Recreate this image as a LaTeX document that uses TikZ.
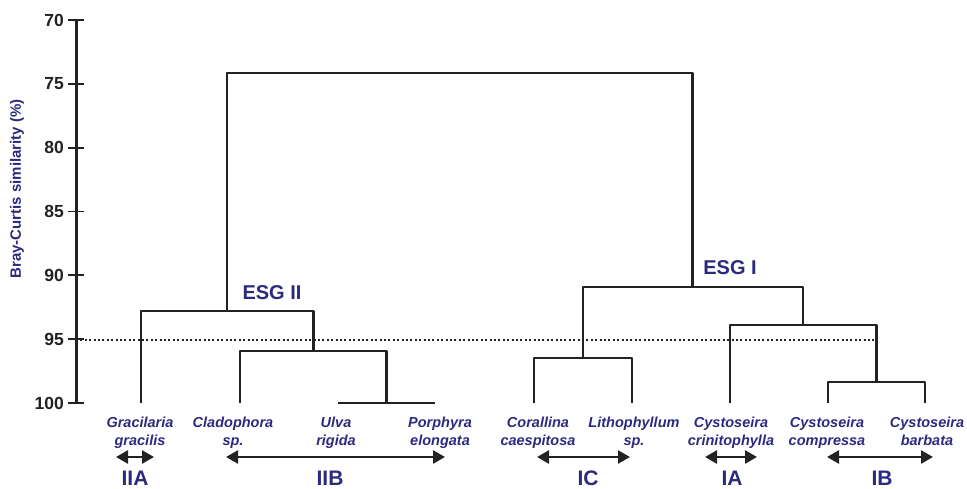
\documentclass[tikz,border=0pt]{standalone}
\usepackage{fontspec}
\setmainfont{Liberation Sans}
\usepackage{xcolor}
\usetikzlibrary{calc}
\usetikzlibrary{arrows.meta}
\definecolor{esgblue}{RGB}{43,42,127}
\definecolor{dendro}{RGB}{34,34,34}

\begin{document}
\begin{tikzpicture}[x=1pt,y=-1pt,
   branch/.style={draw=dendro,line width=2.6pt,line join=round},
   ticklabel/.style={anchor=east,inner sep=0pt,text=dendro,font=\fontsize{17.5}{17.5}\selectfont\bfseries},
   species/.style={anchor=north,inner sep=0pt,align=center,text=esgblue,
      font=\fontsize{14.5}{18}\selectfont\bfseries\itshape},
   esg/.style={inner sep=0pt,text=esgblue,font=\fontsize{20}{20}\selectfont\bfseries},
   group/.style={inner sep=0pt,text=esgblue,font=\fontsize{21}{21}\selectfont\bfseries},
   grouparrow/.style={draw=dendro,line width=2.6pt,
      {Triangle[width=13pt,length=12pt]}-{Triangle[width=13pt,length=12pt]}}]
\useasboundingbox (0,0) rectangle (967,489);

% similarity axis
\coordinate (axtop) at (76,20);
\coordinate (axbot) at (76,403);
\draw[dendro,line width=3pt] (axtop) -- (axbot);
\foreach \v in {70,75,...,100}{
  \pgfmathsetmacro{\yy}{20+(\v-70)*12.77}
  \draw[dendro,line width=1.8pt] (68,\yy) -- (84,\yy);
  \node[ticklabel] at (64,\yy) {\v};
}
\node[rotate=90,text=esgblue,font=\fontsize{15}{15}\selectfont\bfseries] (axtitle) at (17,189)
   {Bray-Curtis similarity (\%)};

% cut-off level
\coordinate (cutL) at (76,340);
\coordinate (cutR) at (876,340);
\draw[dendro,line width=2.4pt,dash pattern=on 2pt off 2.4pt] (cutL) -- (cutR);

% leaves
\coordinate (grac) at (141,403);
\coordinate (clad) at (240,403);
\coordinate (ulva) at (338,403);
\coordinate (porph) at (435,403);
\coordinate (coral) at (534,403);
\coordinate (litho) at (632,403);
\coordinate (crini) at (730,403);
\coordinate (compr) at (828,403);
\coordinate (barb) at (925,403);

% merges
\coordinate (root) at (459.5,73);
\coordinate (esgii) at (227,311);
\coordinate (iib) at (313.5,351);
\coordinate (ulpo) at (386.5,403);
\coordinate (esgi) at (692.5,287);
\coordinate (ic) at (583,358);
\coordinate (iab) at (803,325);
\coordinate (ib) at (876.5,382);

\draw[branch] (root) -| (esgii) (root) -| (esgi);
\draw[branch] (esgii) -| (grac) (esgii) -| (iib);
\draw[branch] (iib) -| (clad) (iib) -| (ulpo);
\draw[branch] (ulpo) -| (ulva) (ulpo) -| (porph);
\draw[branch] (esgi) -| (ic) (esgi) -| (iab);
\draw[branch] (ic) -| (coral) (ic) -| (litho);
\draw[branch] (iab) -| (crini) (iab) -| (ib);
\draw[branch] (ib) -| (compr) (ib) -| (barb);

\node[esg] (esgiilabel) at (272,292.5) {ESG II};
\node[esg] (esgilabel) at (730,268) {ESG I};

% species
\node[species] (gracname) at (140,417) {Gracilaria\\gracilis};
\node[species] (cladname) at (233,417) {Cladophora\\sp.};
\node[species] (ulvaname) at (336,417) {Ulva\\rigida};
\node[species] (porphname) at (440,417) {Porphyra\\elongata};
\node[species] (coralname) at (538,417) {Corallina\\caespitosa};
\node[species] (lithoname) at (634,417) {Lithophyllum\\sp.};
\node[species] (crininame) at (731,417) {Cystoseira\\crinitophylla};
\node[species] (comprname) at (827,417) {Cystoseira\\compressa};
\node[species] (barbname) at (927,417) {Cystoseira\\barbata};

% groups
\coordinate (iiaL) at (116,457); \coordinate (iiaR) at (154,457);
\coordinate (iibL) at (226,457); \coordinate (iibR) at (445,457);
\coordinate (icL) at (537,457); \coordinate (icR) at (630,457);
\coordinate (iaL) at (705,457); \coordinate (iaR) at (757,457);
\coordinate (ibL) at (827,457); \coordinate (ibR) at (933,457);
\draw[grouparrow] (iiaL) -- (iiaR);
\draw[grouparrow] (iibL) -- (iibR);
\draw[grouparrow] (icL) -- (icR);
\draw[grouparrow] (iaL) -- (iaR);
\draw[grouparrow] (ibL) -- (ibR);

\node[group] (iialabel) at (135,478) {IIA};
\node[group] (iiblabel) at (330,478) {IIB};
\node[group] (iclabel) at (588,478) {IC};
\node[group] (ialabel) at (732,478) {IA};
\node[group] (iblabel) at (882,478) {IB};
\end{tikzpicture}
\end{document}
